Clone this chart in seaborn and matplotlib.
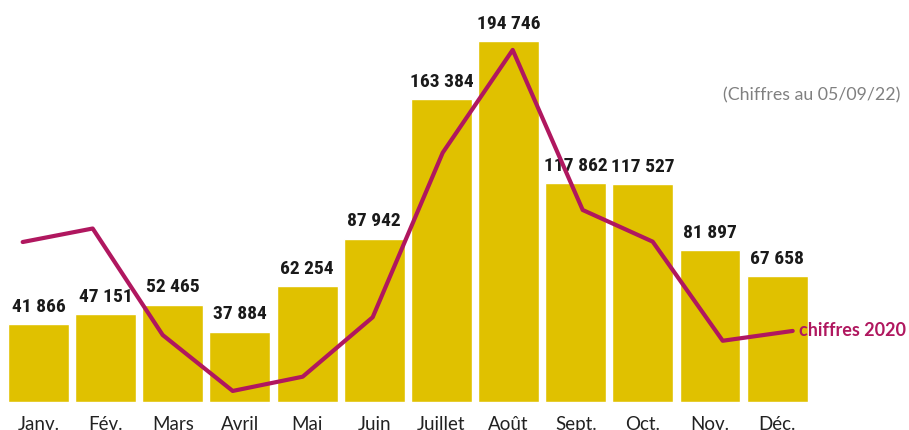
import numpy as np
import pandas as pd
import matplotlib
matplotlib.use("Agg")
import matplotlib.pyplot as plt
import seaborn as sns

# Monthly figures
months = ["Janv.", "Fév.", "Mars", "Avril", "Mai", "Juin",
          "Juillet", "Août", "Sept.", "Oct.", "Nov.", "Déc."]
values_current = [41866, 47151, 52465, 37884, 62254, 87942,
                  163384, 194746, 117862, 117527, 81897, 67658]
values_2020 = [86200, 93500, 36000, 5800, 13500, 45600,
               134400, 189900, 103500, 86400, 32900, 38200]

BAR_COLOR = "#E0C100"
LINE_COLOR = "#B0175F"
NARROW = ["Liberation Sans Narrow", "Roboto Condensed", "DejaVu Sans"]

sns.set_theme(style="white")
plt.rcParams["font.family"] = ["Lato", "DejaVu Sans"]

W, H = 909, 430
fig = plt.figure(figsize=(W / 100, H / 100), dpi=100)
ax = fig.add_axes([0, (H - 401.7) / H, 820 / W, 389 / H])

df = pd.DataFrame({"mois": months, "valeur": values_current})
sns.barplot(data=df, x="mois", y="valeur", color=BAR_COLOR, saturation=1,
            width=0.908, ax=ax)
ax.set_xlim(-0.5733, 11.638)
ax.set_ylim(0, 210000)

labels = [f"{v:,}".replace(",", " ") for v in values_current]
ax.bar_label(ax.containers[0], labels=labels, padding=6,
             fontsize=14, fontweight="bold", color="#1a1a1a", family=NARROW)

ax.set_xlabel("")
ax.set_ylabel("")
ax.set_yticks([])
ax.tick_params(axis="x", length=0, pad=10, labelsize=13.5, labelcolor="#222222")
for s in ax.spines.values():
    s.set_visible(False)

# 2020 line on its own horizontal scale
ax2 = ax.twiny()
sns.lineplot(x=np.arange(len(values_2020)), y=values_2020, ax=ax2,
             color=LINE_COLOR, linewidth=3)
ax2.set_xlim(-0.324, 11.39)
ax2.set_ylim(0, 210000)
ax2.set_xticks([])
for s in ax2.spines.values():
    s.set_visible(False)
ax2.annotate("chiffres 2020", xy=(11, values_2020[-1]), xytext=(4.5, 0),
             textcoords="offset points", ha="left", va="center",
             fontsize=13, fontweight="bold", color=LINE_COLOR,
             annotation_clip=False)

fig.text(900 / W, 1 - 95 / H, "(Chiffres au 05/09/22)", ha="right", va="center",
         fontsize=12.8, color="#808080")

fig.savefig("out.png", dpi=100)
